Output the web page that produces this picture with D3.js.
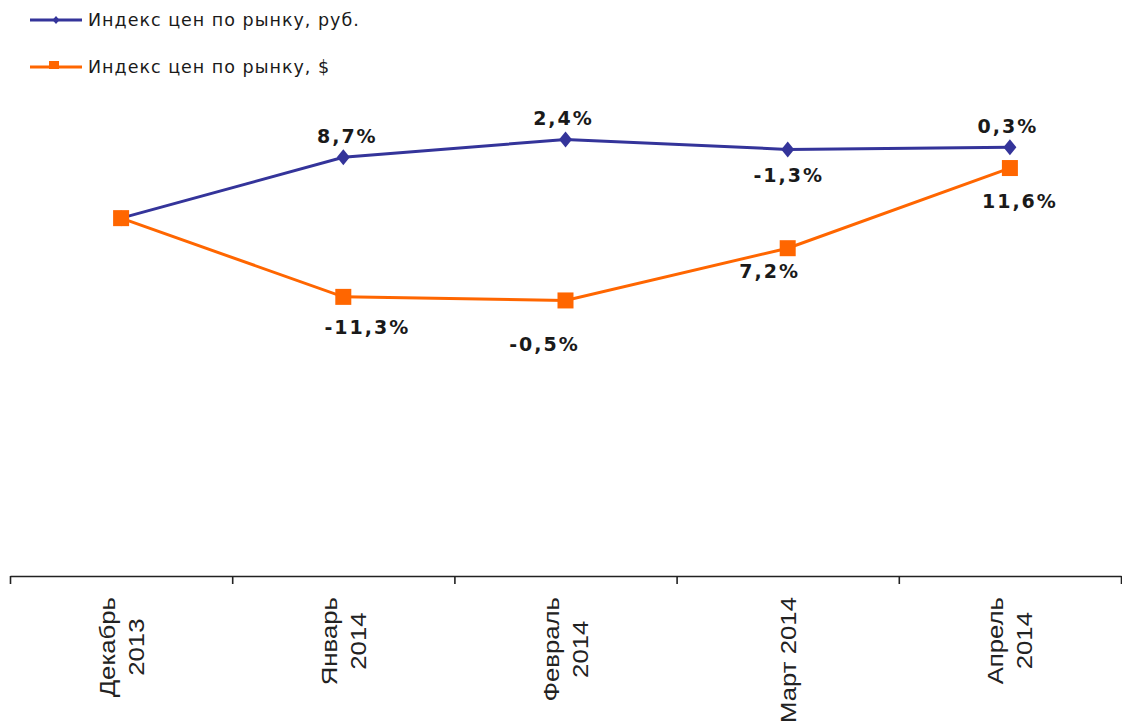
<!DOCTYPE html>
<html>
<head>
<meta charset="utf-8">
<script src="https://cdn.jsdelivr.net/npm/d3@7"></script>
<style>
  body { margin: 0; background: #fff; }
  svg { display: block; }
</style>
</head>
<body>
<svg id="chart"></svg>
<script>
// data
const categories = ['Декабрь 2013', 'Январь 2014', 'Февраль 2014', 'Март 2014', 'Апрель 2014'];
const categoryLines = [['Декабрь', '2013'], ['Январь', '2014'], ['Февраль', '2014'], ['Март 2014'], ['Апрель', '2014']];
const rubValues = [100, 108.5, 111.0, 109.6, 109.9];
const usdValues = [100, 89.0, 88.5, 95.8, 107.0];
const rubLabels = ['', '8,7%', '2,4%', '-1,3%', '0,3%'];
const usdLabels = ['', '-11,3%', '-0,5%', '7,2%', '11,6%'];
const seriesNames = ['Индекс цен по рынку, руб.', 'Индекс цен по рынку, $'];

// label nudges (dx, dy from the point), hand placed like in the original
const rubLabelOffsets = [[0, 0], [3, -14], [-3, -14], [0, 33], [-3, -14]];
const usdLabelOffsets = [[0, 0], [23, 37], [-22, 51], [-19, 30], [9, 40]];

const width = 1122, height = 726;
const axisY = 576;
const blue = '#34349a', orange = '#ff6600';

const svg = d3.select('#chart')
  .attr('width', width)
  .attr('height', height);

const x = d3.scaleBand()
  .domain(categories)
  .range([10, 1121]);

const xEdge = d3.scaleLinear()
  .domain([0, categories.length])
  .range([10, 1121]);

const y = d3.scaleLinear()
  .domain([50, 120])
  .range([axisY, 75]);

const cx = d => x(d) + x.bandwidth() / 2;

// x axis: ticks at the category edges
const axis = svg.append('g')
  .attr('transform', `translate(0,${axisY})`)
  .call(d3.axisBottom(xEdge)
    .tickValues(d3.range(categories.length + 1))
    .tickSize(8)
    .tickSizeOuter(0)
    .tickFormat(''));
axis.select('.domain').attr('stroke', '#222').attr('stroke-width', 1.6);
axis.selectAll('.tick line').attr('stroke', '#222').attr('stroke-width', 1.6);

// rotated category labels
const labelFont = 22, lineStep = 29, capH = 16, stretch = 1.17;
categories.forEach((c, i) => {
  const lines = categoryLines[i];
  const g = svg.append('g')
    .attr('transform', `translate(${cx(c)},597) rotate(-90) scale(${stretch},1)`);
  const texts = g.selectAll('text')
    .data(lines)
    .enter()
    .append('text')
    .attr('font-family', '"Liberation Sans", Arial, sans-serif')
    .attr('font-size', labelFont)
    .attr('fill', '#222')
    .attr('text-anchor', 'middle')
    .text(d => d);
  const maxLen = d3.max(texts.nodes(), n => n.getComputedTextLength());
  const base = capH / 2 - (lines.length - 1) * lineStep / 2;
  texts
    .attr('x', -maxLen / 2)
    .attr('y', (d, j) => (base + j * lineStep) / 1);
});

const line = d3.line()
  .x((d, i) => cx(categories[i]))
  .y(d => y(d));

// rub series
svg.append('path')
  .datum(rubValues)
  .attr('fill', 'none')
  .attr('stroke', blue)
  .attr('stroke-width', 3)
  .attr('d', line);

svg.selectAll('.rub-marker')
  .data(rubValues)
  .enter()
  .append('path')
  .attr('class', 'rub-marker')
  .attr('d', 'M0,-8L6.5,0L0,8L-6.5,0Z')
  .attr('fill', blue)
  .attr('transform', (d, i) => `translate(${cx(categories[i])},${y(d)})`);

// usd series
svg.append('path')
  .datum(usdValues)
  .attr('fill', 'none')
  .attr('stroke', orange)
  .attr('stroke-width', 3)
  .attr('d', line);

svg.selectAll('.usd-marker')
  .data(usdValues)
  .enter()
  .append('rect')
  .attr('class', 'usd-marker')
  .attr('x', (d, i) => cx(categories[i]) - 8)
  .attr('y', d => y(d) - 8)
  .attr('width', 16)
  .attr('height', 16)
  .attr('fill', orange);

// value labels
function addLabels(values, labels, offsets) {
  svg.append('g')
    .selectAll('text')
    .data(values)
    .enter()
    .append('text')
    .attr('x', (d, i) => cx(categories[i]) + offsets[i][0] + 1)
    .attr('y', (d, i) => y(d) + offsets[i][1])
    .attr('text-anchor', 'middle')
    .attr('font-family', '"DejaVu Sans", Verdana, sans-serif')
    .attr('font-weight', 'bold')
    .attr('font-size', 19)
    .attr('letter-spacing', 2)
    .attr('fill', '#1a1a1a')
    .text((d, i) => labels[i]);
}
addLabels(rubValues, rubLabels, rubLabelOffsets);
addLabels(usdValues, usdLabels, usdLabelOffsets);

// legend
const legend = svg.append('g');
[20, 67].forEach((ly, i) => {
  const color = i === 0 ? blue : orange;
  legend.append('line')
    .attr('x1', 30).attr('x2', 82)
    .attr('y1', ly).attr('y2', ly)
    .attr('stroke', color)
    .attr('stroke-width', 3);
  if (i === 0) {
    legend.append('path')
      .attr('d', 'M0,-4L3.5,0L0,4L-3.5,0Z')
      .attr('fill', color)
      .attr('transform', `translate(56,${ly})`);
  } else {
    legend.append('rect')
      .attr('x', 49).attr('y', ly - 6)
      .attr('width', 10).attr('height', 8)
      .attr('fill', color);
  }
  legend.append('text')
    .attr('x', 88)
    .attr('y', ly + 6)
    .attr('font-family', '"DejaVu Sans", Verdana, sans-serif')
    .attr('font-size', 17.5)
    .attr('letter-spacing', 1)
    .attr('fill', '#1a1a1a')
    .text(seriesNames[i]);
});
</script>
</body>
</html>
